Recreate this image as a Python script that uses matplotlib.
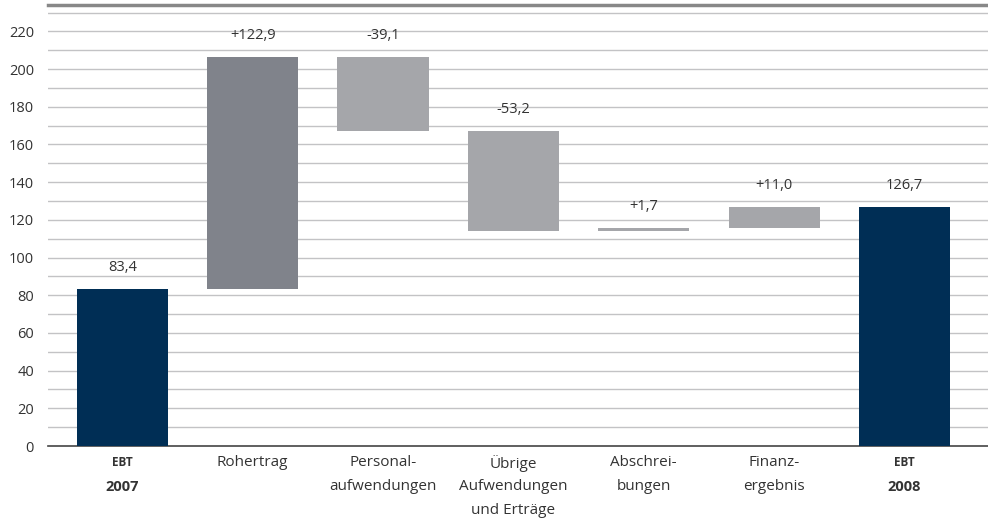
import numpy as np
import matplotlib.pyplot as plt
from matplotlib.transforms import blended_transform_factory

plt.rcParams["font.family"] = ["Open Sans", "DejaVu Sans"]

# ----------------
# Chart data
# ----------------

categories = [
    ["EBT", "2007"],
    ["Rohertrag"],
    ["Personal-", "aufwendungen"],
    ["Übrige", "Aufwendungen", "und Erträge"],
    ["Abschrei-", "bungen"],
    ["Finanz-", "ergebnis"],
    ["EBT", "2008"],
]
changes = [83.4, 122.9, -39.1, -53.2, 1.7, 11.0, 126.7]
value_labels = ["83,4", "+122,9", "-39,1", "-53,2", "+1,7", "+11,0", "126,7"]
is_total = [True, False, False, False, False, False, True]
y_ticks = list(range(0, 221, 20))

NAVY = "#002e55"
DARK_GREY = "#80838b"
LIGHT_GREY = "#a5a6aa"
TEXT = "#333333"

# waterfall bottoms / heights
bottoms = []
heights = []
running = 0.0
for val, total in zip(changes, is_total):
    if total:
        bottoms.append(0.0)
        heights.append(val)
        running = val
    else:
        start = running
        running = running + val
        bottoms.append(min(start, running))
        heights.append(abs(val))

colors = []
for i, total in enumerate(is_total):
    if total:
        colors.append(NAVY)
    elif i == 1:
        colors.append(DARK_GREY)
    else:
        colors.append(LIGHT_GREY)

fig = plt.figure(figsize=(9.88, 5.27), dpi=100)
ax = fig.add_axes([48 / 988, 81 / 527, 940 / 988, 441 / 527])

x = np.arange(len(changes))
ax.bar(x, heights, bottom=bottoms, width=0.7, color=colors, zorder=3)

for xi, b, h, lab in zip(x, bottoms, heights, value_labels):
    ax.annotate(lab, (xi, b + h), xytext=(0, 10), textcoords="offset points",
                ha="center", va="bottom", fontsize=10.5, color=TEXT)

ax.set_xlim(-0.57, len(changes) - 0.36)
ax.set_ylim(0, 234)

# grid every 10
for gy in range(10, 231, 10):
    ax.axhline(gy, color="#c3c3c5", lw=1, zorder=1)

ax.set_yticks(y_ticks)
ax.set_yticklabels([str(t) for t in y_ticks], fontsize=10.5, color=TEXT)
ax.tick_params(axis="y", length=0, pad=10)
ax.set_xticks([])

for side in ("left", "right"):
    ax.spines[side].set_visible(False)
ax.spines["bottom"].set_color("#444444")
ax.spines["bottom"].set_linewidth(1.2)
ax.spines["top"].set_color("#888888")
ax.spines["top"].set_linewidth(2.5)

# category labels below the axis
trans = blended_transform_factory(ax.transData, ax.transAxes)
line_step = 24 / 441
for xi, lines, total in zip(x, categories, is_total):
    for j, line in enumerate(lines):
        y = -17 / 441 - j * line_step
        if total:
            size = 8.5 if j == 0 else 10.5
            ax.text(xi, y, line, transform=trans, ha="center", va="center",
                    fontsize=size, fontweight="bold", color=TEXT)
        else:
            ax.text(xi, y, line, transform=trans, ha="center", va="center",
                    fontsize=11, color=TEXT)

fig.savefig("out.png", dpi=100)
